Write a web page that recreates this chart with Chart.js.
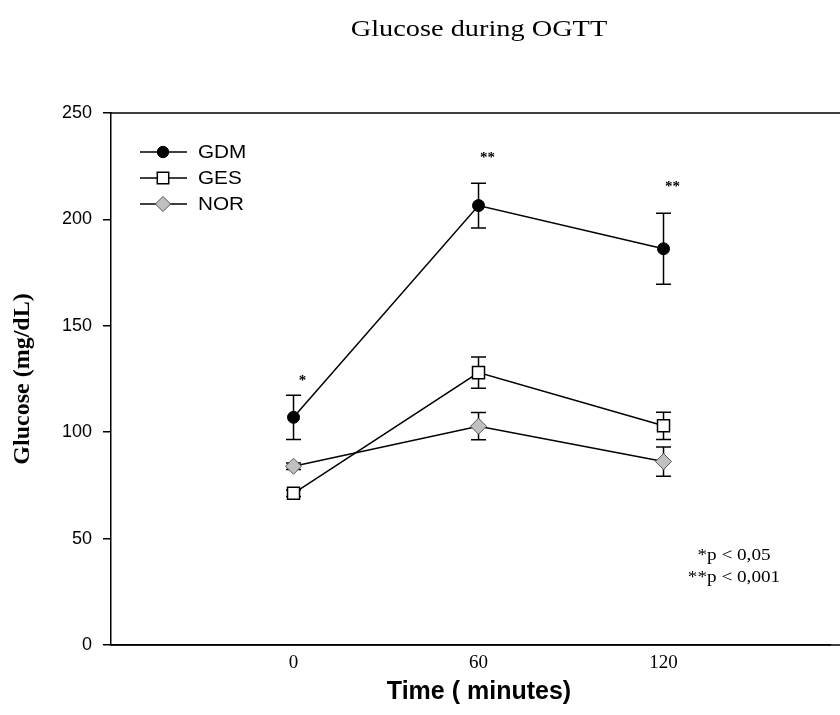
<!DOCTYPE html>
<html>
<head>
<meta charset="utf-8">
<script src="https://cdn.jsdelivr.net/npm/chart.js@4/dist/chart.umd.min.js"></script>
<style>
  html, body { margin: 0; padding: 0; background: #fff; overflow: hidden; }
</style>
</head>
<body>
<canvas id="ogtt" width="840" height="715"></canvas>
<script>
// time points (minutes)
let times = [0, 60, 120];
let xTicks = [0, 60, 120];
let yTicks = [0, 50, 100, 150, 200, 250];

// means and error (+/-)
let gdmMean = [107, 206.5, 186.2];
let gdmErr = [10.4, 10.5, 16.7];
let gesMean = [71.3, 128, 103];
let gesErr = [1.5, 7.3, 6.4];
let norMean = [84, 102.8, 86.2];
let norErr = [1.5, 6.4, 6.9];

// significance marks
let sigLabels = ["*", "**", "**"];
let sigY = [124, 229, 215];

function toPoints(means) {
    return times.map(function (t, i) { return {x: t, y: means[i]}; });
}

// text drawn a bit wider than the font, like the original picture
function wideText(ctx, txt, x, y, sx) {
    ctx.save();
    ctx.translate(x, y);
    ctx.scale(sx, 1);
    ctx.fillText(txt, 0, 0);
    ctx.restore();
}

let datasets = [{
    label: "GDM",
    data: toPoints(gdmMean),
    err: gdmErr,
    borderColor: "black",
    borderWidth: 1.5,
    pointStyle: "circle",
    pointRadius: 6,
    pointBackgroundColor: "black",
    pointBorderColor: "black",
    pointBorderWidth: 1
}, {
    label: "GES",
    data: toPoints(gesMean),
    err: gesErr,
    borderColor: "black",
    borderWidth: 1.5,
    pointStyle: "rect",
    pointRadius: 8.5,
    pointBackgroundColor: "white",
    pointBorderColor: "black",
    pointBorderWidth: 1.5
}, {
    label: "NOR",
    data: toPoints(norMean),
    err: norErr,
    borderColor: "black",
    borderWidth: 1.5,
    pointStyle: "rectRot",
    pointRadius: 8,
    pointBackgroundColor: "#c0c0c0",
    pointBorderColor: "#555",
    pointBorderWidth: 1
}];

let extras = {
    id: "extras",
    beforeDatasetsDraw: function (chart) {
        let ctx = chart.ctx;
        let xs = chart.scales.x, ys = chart.scales.y;
        let area = chart.chartArea;
        ctx.save();
        // frame: top line and bottom line run to the edge
        ctx.strokeStyle = "black";
        ctx.lineWidth = 1.5;
        ctx.beginPath();
        ctx.moveTo(area.left, area.top);
        ctx.lineTo(chart.width, area.top);
        ctx.moveTo(area.left, area.bottom);
        ctx.lineTo(chart.width, area.bottom);
        ctx.stroke();
        // error bars
        chart.data.datasets.forEach(function (ds) {
            ds.data.forEach(function (p, i) {
                let px = xs.getPixelForValue(p.x);
                let top = ys.getPixelForValue(p.y + ds.err[i]);
                let bot = ys.getPixelForValue(p.y - ds.err[i]);
                ctx.beginPath();
                ctx.moveTo(px, top); ctx.lineTo(px, bot);
                ctx.moveTo(px - 7.5, top); ctx.lineTo(px + 7.5, top);
                ctx.moveTo(px - 7.5, bot); ctx.lineTo(px + 7.5, bot);
                ctx.stroke();
            });
        });
        ctx.restore();
    },
    afterDraw: function (chart) {
        let ctx = chart.ctx;
        let xs = chart.scales.x, ys = chart.scales.y;
        let area = chart.chartArea;
        ctx.save();
        ctx.fillStyle = "black";

        // stars
        ctx.font = "bold 15px 'Liberation Serif'";
        ctx.textAlign = "center";
        ctx.textBaseline = "middle";
        sigLabels.forEach(function (s, i) {
            ctx.fillText(s, xs.getPixelForValue(times[i]) + 9, ys.getPixelForValue(sigY[i]));
        });

        // legend
        ctx.font = "18px 'Liberation Sans'";
        ctx.textAlign = "left";
        chart.data.datasets.forEach(function (ds, i) {
            let y = area.top + 39 + i * 26;
            ctx.strokeStyle = "black";
            ctx.lineWidth = 1.5;
            ctx.beginPath();
            ctx.moveTo(area.left + 29, y);
            ctx.lineTo(area.left + 76, y);
            ctx.stroke();
            ctx.fillStyle = ds.pointBackgroundColor;
            ctx.strokeStyle = ds.pointBorderColor;
            ctx.lineWidth = ds.pointBorderWidth;
            Chart.helpers.drawPoint(ctx, {
                pointStyle: ds.pointStyle,
                radius: ds.pointRadius * 0.95,
                rotation: 0,
                borderWidth: ds.pointBorderWidth
            }, area.left + 52, y);
            ctx.fillStyle = "black";
            wideText(ctx, ds.label, area.left + 87, y + 1, 1.15);
        });

        // p-value note
        ctx.font = "16px 'Liberation Serif'";
        ctx.textAlign = "center";
        wideText(ctx, "*p < 0,05", 734, 556, 1.2);
        wideText(ctx, "**p < 0,001", 734, 578, 1.2);

        // titles
        ctx.textBaseline = "alphabetic";
        ctx.font = "24px 'Liberation Serif'";
        wideText(ctx, "Glucose during OGTT", 479, 36, 1.18);

        ctx.font = "bold 25px 'Liberation Sans'";
        ctx.fillText("Time ( minutes)", 479, 699);

        ctx.textBaseline = "middle";
        ctx.translate(23, 379);
        ctx.rotate(-Math.PI / 2);
        ctx.font = "bold 24px 'Liberation Serif'";
        ctx.fillText("Glucose (mg/dL)", 0, 0);
        ctx.restore();
    }
};

new Chart("ogtt", {
    type: "line",
    data: {datasets: datasets},
    plugins: [extras],
    options: {
        responsive: false,
        animation: false,
        layout: {padding: {top: 113, left: 0, right: 0, bottom: 0}},
        plugins: {
            legend: {display: false},
            title: {display: false},
            tooltip: {enabled: false}
        },
        scales: {
            x: {
                type: "linear",
                min: -59.2,
                max: 174,
                afterBuildTicks: function (s) { s.ticks = xTicks.map(function (v) { return {value: v}; }); },
                afterFit: function (s) { s.height = 70; },
                grid: {display: false, drawTicks: false},
                border: {display: true, color: "black", width: 1.5},
                ticks: {
                    color: "black",
                    padding: 7,
                    font: {family: "'Liberation Serif'", size: 19}
                }
            },
            y: {
                min: 0,
                max: 250,
                afterBuildTicks: function (s) { s.ticks = yTicks.map(function (v) { return {value: v}; }); },
                afterFit: function (s) { s.width = 111; },
                grid: {drawOnChartArea: false, drawTicks: true, tickLength: 8, color: "black", lineWidth: 1.5},
                border: {display: true, color: "black", width: 1.5},
                ticks: {
                    color: "black",
                    padding: 11,
                    font: {family: "'Liberation Sans'", size: 18}
                }
            }
        }
    }
});
</script>
</body>
</html>
